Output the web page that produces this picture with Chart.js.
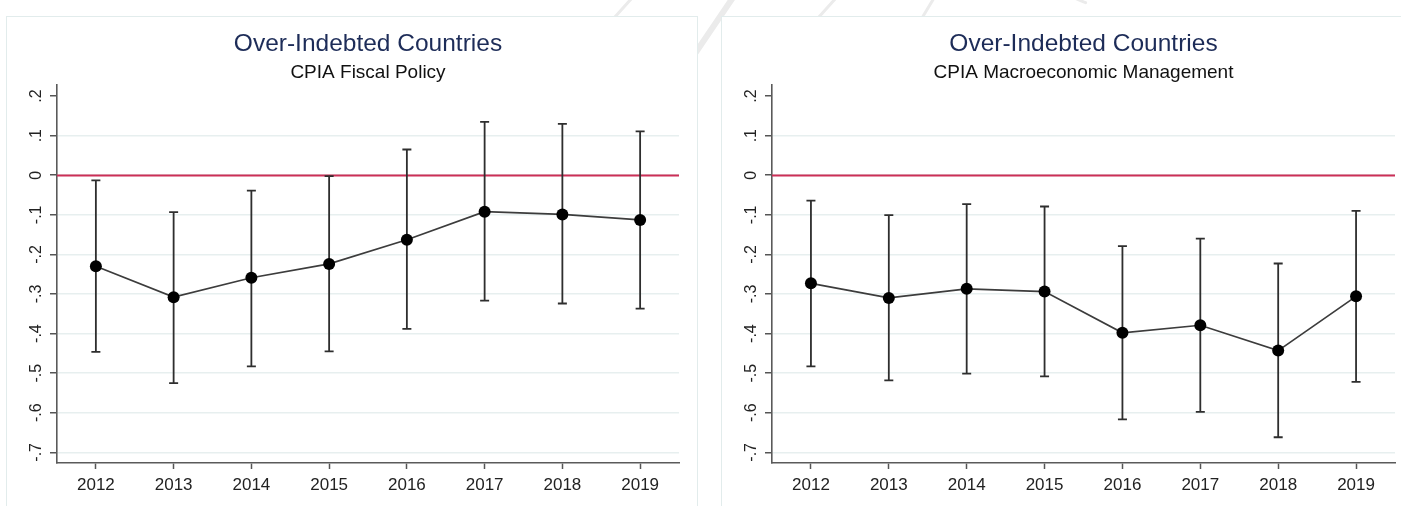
<!DOCTYPE html>
<html>
<head>
<meta charset="utf-8">
<script src="https://cdn.jsdelivr.net/npm/chart.js@4.4.1/dist/chart.umd.min.js"></script>
<style>
  html, body { margin: 0; padding: 0; background: #fff; width: 1401px; height: 506px; overflow: hidden; }
  #bg { position: absolute; left: 0; top: 0; }
  .panel { position: absolute; top: 16px; height: 520px; background: #fff; border: 1px solid #e2ecec; box-sizing: border-box; }
  #p1 { left: 6px; width: 692px; }
  #p2 { left: 721px; width: 700px; }
  canvas.c { position: absolute; }
</style>
</head>
<body>
<canvas id="bg" width="1401" height="506"></canvas>
<div class="panel" id="p1"></div>
<div class="panel" id="p2"></div>
<canvas class="c" id="c1" width="690" height="489" style="left:7px;top:17px"></canvas>
<canvas class="c" id="c2" width="679" height="489" style="left:722px;top:17px"></canvas>
<script>
// ---- data ----
const years = ['2012', '2013', '2014', '2015', '2016', '2017', '2018', '2019'];

const fiscalEst = [-0.230, -0.308, -0.259, -0.224, -0.163, -0.092, -0.099, -0.113];
const fiscalLo  = [-0.446, -0.525, -0.483, -0.445, -0.388, -0.317, -0.324, -0.337];
const fiscalHi  = [-0.013, -0.093, -0.039, -0.002,  0.065,  0.135,  0.130,  0.111];

const macroEst = [-0.273, -0.310, -0.287, -0.294, -0.398, -0.379, -0.443, -0.306];
const macroLo  = [-0.483, -0.518, -0.501, -0.508, -0.617, -0.598, -0.662, -0.522];
const macroHi  = [-0.064, -0.101, -0.073, -0.079, -0.179, -0.160, -0.223, -0.090];

const yTicks      = [-0.7, -0.6, -0.5, -0.4, -0.3, -0.2, -0.1, 0, 0.1, 0.2];
const yTickLabels = ['-.7', '-.6', '-.5', '-.4', '-.3', '-.2', '-.1', '0', '.1', '.2'];
const yMin = -0.727, yMax = 0.228;
const refValue = 0;

const mainTitle = 'Over-Indebted Countries';

// ---- faint background strokes along the top edge ----
(function drawBackdrop() {
  const g = document.getElementById('bg').getContext('2d');
  g.strokeStyle = '#ebebeb';
  g.lineCap = 'round';
  const strokes = [
    [[734, -4], [692, 58], 6],
    [[632, -2], [614, 18], 3],
    [[836, -2], [818, 18], 3],
    [[934, -2], [922, 18], 3],
  ];
  strokes.forEach(([a, b, w]) => {
    g.lineWidth = w;
    g.beginPath(); g.moveTo(a[0], a[1]); g.lineTo(b[0], b[1]); g.stroke();
  });
  g.lineWidth = 3;
  g.beginPath(); g.arc(1150, -160, 175, Math.PI * 0.62, Math.PI * 0.78); g.stroke();
  g.beginPath(); g.arc(1150, -160, 100, Math.PI * 0.55, Math.PI * 0.75); g.stroke();
})();

// ---- confidence intervals and zero reference line ----
const errorBarPlugin = {
  id: 'errorBars',
  beforeDatasetsDraw(chart, args, opts) {
    const { ctx, chartArea, scales: { x, y } } = chart;
    ctx.save();
    const y0 = Math.round(y.getPixelForValue(opts.ref)) + 0.5;
    ctx.strokeStyle = opts.refColor;
    ctx.lineWidth = 2;
    ctx.beginPath();
    ctx.moveTo(chartArea.left, y0);
    ctx.lineTo(chartArea.right, y0);
    ctx.stroke();

    ctx.strokeStyle = opts.color;
    ctx.lineWidth = 1.8;
    const cap = 4.5;
    opts.lo.forEach((lo, i) => {
      const px = x.getPixelForValue(i);
      const pLo = y.getPixelForValue(lo);
      const pHi = y.getPixelForValue(opts.hi[i]);
      ctx.beginPath();
      ctx.moveTo(px, pLo); ctx.lineTo(px, pHi);
      ctx.moveTo(px - cap, pLo); ctx.lineTo(px + cap, pLo);
      ctx.moveTo(px - cap, pHi); ctx.lineTo(px + cap, pHi);
      ctx.stroke();
    });
    ctx.restore();
  }
};

const FONT = "'Liberation Sans', Arial, sans-serif";
Chart.defaults.font.family = FONT;

function buildChart(id, subtitle, est, lo, hi, rightPad) {
  return new Chart(document.getElementById(id), {
    type: 'line',
    data: {
      labels: years,
      datasets: [{
        data: est,
        borderColor: '#3c3c3c',
        borderWidth: 1.7,
        tension: 0,
        pointRadius: 6,
        pointBackgroundColor: '#000',
        pointBorderColor: '#000',
        pointBorderWidth: 0,
        clip: false
      }]
    },
    options: {
      responsive: false,
      animation: false,
      events: [],
      layout: { padding: { left: 0, right: rightPad, top: 0, bottom: 0 } },
      plugins: {
        legend: { display: false },
        tooltip: { enabled: false },
        title: {
          display: true,
          text: mainTitle,
          fullSize: false,
          color: '#1d2c58',
          font: { family: FONT, size: 24.5, weight: 'normal', lineHeight: 1.2 },
          padding: { top: 12.1, bottom: 0 }
        },
        subtitle: {
          display: true,
          text: subtitle,
          fullSize: false,
          color: '#111',
          font: { family: FONT, size: 19, weight: 'normal', lineHeight: 1.2 },
          padding: { top: 3, bottom: 0.7 }
        },
        errorBars: { lo: lo, hi: hi, ref: refValue, color: '#2e2e2e', refColor: '#cc2f57' }
      },
      scales: {
        x: {
          type: 'category',
          offset: true,
          grid: {
            display: true,
            drawOnChartArea: false,
            drawTicks: true,
            tickLength: 6,
            tickColor: '#555',
            tickWidth: 1.5,
            offset: false
          },
          border: { display: true, color: '#5a5a5a', width: 1.6 },
          ticks: {
            color: '#222',
            font: { family: FONT, size: 17 },
            padding: 6,
            maxRotation: 0,
            autoSkip: false
          },
          afterFit(scale) { scale.height = 43; }
        },
        y: {
          type: 'linear',
          min: yMin,
          max: yMax,
          afterBuildTicks(scale) { scale.ticks = yTicks.map(v => ({ value: v })); },
          grid: {
            drawTicks: true,
            tickLength: 7,
            tickColor: '#555',
            tickWidth: 1.5,
            lineWidth: 1.5,
            color: (c) => (c.index === yTicks.length - 1 ? 'rgba(0,0,0,0)' : '#e7efef')
          },
          border: { display: true, color: '#5a5a5a', width: 1.6 },
          ticks: {
            color: '#222',
            font: { family: FONT, size: 16 },
            minRotation: 90,
            maxRotation: 90,
            crossAlign: 'center',
            padding: 4,
            callback: (v, i) => yTickLabels[i]
          },
          afterFit(scale) { scale.width = 50; }
        }
      }
    },
    plugins: [errorBarPlugin]
  });
}

buildChart('c1', 'CPIA Fiscal Policy', fiscalEst, fiscalLo, fiscalHi, 18);
buildChart('c2', 'CPIA Macroeconomic Management', macroEst, macroLo, macroHi, 6);
</script>
</body>
</html>
